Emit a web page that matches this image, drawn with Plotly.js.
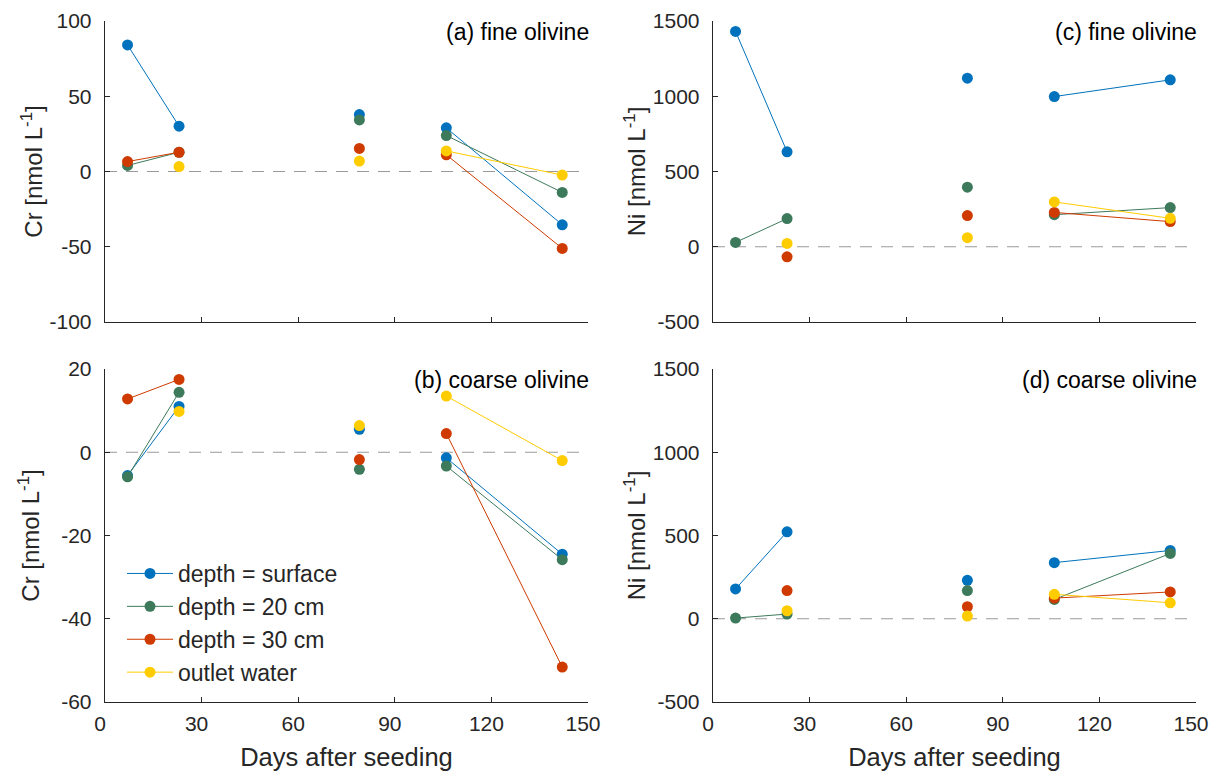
<!DOCTYPE html>
<html>
<head>
<meta charset="utf-8">
<script src="https://cdn.plot.ly/plotly-3.0.1.min.js"></script>
<style>html,body{margin:0;padding:0;background:#fff;}#chart{width:1217px;height:778px;}</style>
</head>
<body>
<div id="chart"></div>
<script>
// ---- data ----
const days = [7, 23, 79, 106, 142];
const seriesNames = ["depth = surface", "depth = 20 cm", "depth = 30 cm", "outlet water"];
const seriesColors = ["#0072BD", "#3D7A5C", "#CF3A00", "#FFCC00"];

// (a) Cr, fine olivine
const crFineSurface = [84.1, 30.1, 37.8, 29.0, -35.4];
const crFine20cm    = [4.0, 12.8, 34.3, 23.9, -13.9];
const crFine30cm    = [6.6, 12.8, 15.3, 11.1, -51.1];
const crFineOutlet  = [null, 3.3, 6.9, 13.7, -2.4];

// (b) Cr, coarse olivine
const crCoarseSurface = [-5.6, 11.0, 5.5, -1.35, -24.5];
const crCoarse20cm    = [-5.9, 14.4, -4.1, -3.3, -25.8];
const crCoarse30cm    = [12.8, 17.5, -1.75, 4.5, -51.6];
const crCoarseOutlet  = [null, 9.8, 6.4, 13.5, -2.0];

// (c) Ni, fine olivine
const niFineSurface = [1431, 631, 1120, 998, 1109];
const niFine20cm    = [29, 187, 396, 213, 260];
const niFine30cm    = [null, -67, 207, 228, 167];
const niFineOutlet  = [null, 22, 60, 298, 189];

// (d) Ni, coarse olivine
const niCoarseSurface = [179, 522, 231, 337, 410];
const niCoarse20cm    = [4, 28, 169, 116, 392];
const niCoarse30cm    = [null, 169, 72, 124, 161];
const niCoarseOutlet  = [null, 48, 16, 147, 96];

// sampling campaigns joined by lines
const campaigns = [[0, 1], [2], [3, 4]];

const xTicks = [0, 30, 60, 90, 120, 150];
const crFineTicks = [-100, -50, 0, 50, 100];
const crCoarseTicks = [-60, -40, -20, 0, 20];
const niTicks = [-500, 0, 500, 1000, 1500];

const panels = [
  {xa: "x",  ya: "y",  label: "(a) fine olivine",   values: [crFineSurface, crFine20cm, crFine30cm, crFineOutlet], legend: false},
  {xa: "x2", ya: "y2", label: "(b) coarse olivine", values: [crCoarseSurface, crCoarse20cm, crCoarse30cm, crCoarseOutlet], legend: true},
  {xa: "x3", ya: "y3", label: "(c) fine olivine",   values: [niFineSurface, niFine20cm, niFine30cm, niFineOutlet], legend: false},
  {xa: "x4", ya: "y4", label: "(d) coarse olivine", values: [niCoarseSurface, niCoarse20cm, niCoarse30cm, niCoarseOutlet], legend: false}
];

// ---- build traces ----
const traces = [];
panels.forEach(p => {
  p.values.forEach((vals, si) => {
    const xs = [], ys = [];
    campaigns.forEach((grp, gi) => {
      if (gi > 0) { xs.push(null); ys.push(null); }
      grp.forEach(i => { xs.push(days[i]); ys.push(vals[i]); });
    });
    traces.push({
      type: "scatter", mode: "lines+markers",
      x: xs, y: ys, xaxis: p.xa, yaxis: p.ya,
      name: seriesNames[si], showlegend: p.legend, connectgaps: false,
      line: {color: seriesColors[si], width: 1},
      marker: {color: seriesColors[si], size: 11},
      hoverinfo: "x+y+name"
    });
  });
});

// ---- layout ----
const W = 1217, H = 778;
const fontFam = "'Liberation Sans', Arial, Helvetica, sans-serif";
const ink = "#262626";
const colL = [105 / W, 588 / W], colR = [713 / W, 1196 / W];
const rowT = [1 - 322 / H, 1 - 21 / H], rowB = [1 - 702 / H, 1 - 369 / H];

function xaxis(domain, anchor, showLabels) {
  return {
    domain: domain, anchor: anchor, range: [0, 150],
    tickvals: xTicks, ticktext: xTicks.map(String), showticklabels: showLabels,
    showline: true, linecolor: ink, linewidth: 1.3, mirror: false,
    ticks: "inside", ticklen: 5, tickwidth: 1.3, tickcolor: ink,
    showgrid: false, zeroline: false, ticklabelstandoff: 2, ticklabelshift: -5,
    tickfont: {family: fontFam, size: 21, color: ink},
    title: {text: showLabels ? "Days after seeding" : "", font: {family: fontFam, size: 25.5, color: ink}, standoff: 14}
  };
}
function yaxis(domain, anchor, range, ticks, title, standoff) {
  return {
    domain: domain, anchor: anchor, range: range,
    tickvals: ticks, ticktext: ticks.map(String),
    showline: true, linecolor: ink, linewidth: 1.3,
    ticks: "inside", ticklen: 5, tickwidth: 1.3, tickcolor: ink,
    showgrid: false, zeroline: false, ticklabelstandoff: 8,
    tickfont: {family: fontFam, size: 21, color: ink},
    title: {text: title, font: {family: fontFam, size: 24, color: ink}, standoff: standoff}
  };
}
const crTitle = "Cr [nmol L<sup>-1</sup>]";
const niTitle = "Ni [nmol L<sup>-1</sup>]";

const layout = {
  width: W, height: H,
  margin: {l: 0, r: 0, t: 0, b: 0},
  paper_bgcolor: "#fff", plot_bgcolor: "#fff",
  font: {family: fontFam, color: ink},
  xaxis:  xaxis(colL, "y", false),
  xaxis2: xaxis(colL, "y2", true),
  xaxis3: xaxis(colR, "y3", false),
  xaxis4: xaxis(colR, "y4", true),
  yaxis:  yaxis(rowT, "x",  [-100, 100], crFineTicks, crTitle, 0),
  yaxis2: yaxis(rowB, "x2", [-60, 20], crCoarseTicks, crTitle, 14),
  yaxis3: yaxis(rowT, "x3", [-500, 1500], niTicks, niTitle, 0),
  yaxis4: yaxis(rowB, "x4", [-500, 1500], niTicks, niTitle, 0),
  showlegend: true,
  legend: {
    x: 122 / W, y: 1 - 552 / H, xanchor: "left", yanchor: "top",
    bgcolor: "rgba(0,0,0,0)", borderwidth: 0,
    font: {family: fontFam, size: 23, color: ink},
    itemwidth: 46, tracegroupgap: 0
  },
  shapes: panels.map(p => ({
    type: "line", xref: p.xa + " domain", yref: p.ya,
    x0: 0, x1: 1, y0: 0, y1: 0, layer: "below",
    line: {color: "#9a9a9a", width: 1, dash: "12px,9px"}
  })),
  annotations: panels.map(p => ({
    xref: p.xa + " domain", yref: p.ya + " domain",
    x: 1, y: 1, xanchor: "right", yanchor: "top", xshift: 3, yshift: 4,
    text: p.label, showarrow: false,
    font: {family: fontFam, size: 23, color: "#000"}
  }))
};

Plotly.newPlot("chart", traces, layout, {displayModeBar: false, staticPlot: true});
</script>
</body>
</html>
